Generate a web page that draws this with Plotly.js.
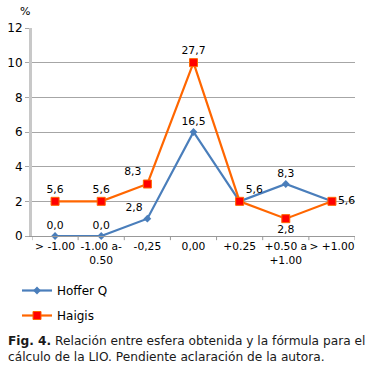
<!DOCTYPE html>
<html><head><meta charset="utf-8">
<script src="https://cdn.plot.ly/plotly-3.0.1.min.js"></script>
<style>body{margin:0;background:#fff}#c{width:389px;height:366px}</style>
</head><body><div id="c"></div>
<script>
const categories = ["> -1.00", "-1.00 a-<br>0.50", "-0,25", "0,00", "+0.25", "+0.50 a<br>+1.00", "> +1.00"];
const hofferQ = [0, 0, 1, 6, 2, 3, 2];
const haigis = [2, 2, 3, 10, 2, 1, 2];
const hofferLabels = ["0,0", "0,0", "2,8", "16,5", "", "8,3", ""];
const haigisLabels = ["5,6", "5,6", "8,3", "27,7", "5,6", "2,8", "5,6"];
const yTicks = [0, 2, 4, 6, 8, 10, 12];

const font = "DejaVu Sans, Verdana, sans-serif";
const idx = categories.map((c, i) => i);

// plot area in pixels: x 32..355, y 28..236
const px = x => (x - 32) / 323;
const py = y => (236 - y) / 208;

const traces = [
  {x: idx, y: hofferQ, name: "Hoffer Q", type: "scatter", mode: "lines+markers+text",
   line: {color: "#4a7ebb", width: 2.2},
   marker: {symbol: "diamond", size: 6, color: "#4a7ebb"},
   text: hofferLabels,
   textposition: ["top center", "top center", "top left", "top center", "top right", "top center", "middle right"],
   textfont: {family: font, size: 10.8, color: "#000"},
   legendgroup: "a", cliponaxis: false},
  {x: idx, y: haigis, name: "Haigis", type: "scatter", mode: "lines+markers+text",
   line: {color: "#ff6600", width: 2.2},
   marker: {symbol: "square", size: 8, color: "#ff0000", line: {color: "#ff6600", width: 1}},
   text: haigisLabels,
   textposition: ["top center", "top center", "top left", "top center", "top right", "bottom center", "middle right"],
   textfont: {family: font, size: 10.8, color: "#000"},
   legendgroup: "b", cliponaxis: false}
];

const layout = {
  width: 389, height: 366,
  margin: {l: 32, r: 34, t: 28, b: 130, autoexpand: false},
  paper_bgcolor: "#fff", plot_bgcolor: "#fff",
  font: {family: font, size: 11, color: "#000"},
  showlegend: true,
  legend: {x: px(17), xanchor: "left", y: py(276), yanchor: "top",
           orientation: "v", tracegroupgap: 6, bgcolor: "rgba(0,0,0,0)",
           font: {family: font, size: 12}},
  xaxis: {range: [-0.5, 6.5], tickmode: "array", tickvals: idx, ticktext: categories,
          tickangle: 0, automargin: false,
          showgrid: false, zeroline: false, showline: true, linecolor: "#999", linewidth: 1,
          ticks: "", tickfont: {family: font, size: 10.7}, fixedrange: true},
  yaxis: {range: [0, 12], tickmode: "array", tickvals: yTicks, ticktext: yTicks.map(String),
          showgrid: true, gridcolor: "#a6a6a6", gridwidth: 1, zeroline: false, automargin: false,
          showline: true, linecolor: "#c8c8c8", linewidth: 3, ticks: "outside", ticklen: 4, tickcolor: "#a6a6a6",
          tickfont: {family: font, size: 12}, fixedrange: true},
  shapes: idx.concat([7]).map(i => ({type: "line", xref: "x", yref: "paper",
          x0: i - 0.5, x1: i - 0.5, y0: 0, y1: -0.02, line: {color: "#999", width: 1}})),
  annotations: [
    {text: "%", xref: "paper", yref: "paper", x: 0, y: 1, xanchor: "right", yanchor: "bottom",
     yshift: 8, showarrow: false, font: {family: font, size: 11}},
    {text: "<b>Fig. 4.</b> Relación entre esfera obtenida y la fórmula para el<br>cálculo de la LIO. Pendiente aclaración de la autora.",
     xref: "paper", yref: "paper", x: px(6), y: py(332), xanchor: "left", yanchor: "top", align: "left",
     showarrow: false, font: {family: font, size: 12.2, color: "#1a1a1a"}}
  ]
};

Plotly.newPlot("c", traces, layout, {displayModeBar: false, staticPlot: true});
</script></body></html>
